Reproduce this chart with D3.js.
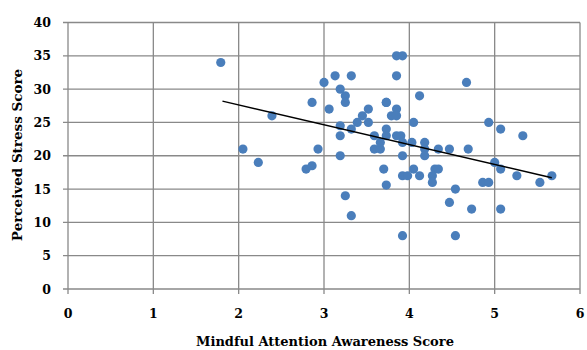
<!DOCTYPE html>
<html>
<head>
<meta charset="utf-8">
<script src="https://cdn.jsdelivr.net/npm/d3@7"></script>
<style>
  body { margin: 0; background: #fff; }
  svg { display: block; }
  text { font-family: "DejaVu Serif", "Liberation Serif", serif; font-weight: bold; fill: #000; }
</style>
</head>
<body>
<svg id="chart"></svg>
<script>
var width = 587;
var height = 350;

// MAAS score (x) and PSS score (y)
var maasScores = [1.79, 2.39, 2.05, 2.23, 2.86, 2.93, 3.00, 3.13, 3.32, 3.19,
                  3.25, 3.25, 3.06, 3.19, 3.19, 3.19, 3.32, 3.39, 3.45, 3.52,
                  3.52, 3.59, 3.59, 3.66, 3.66, 3.73, 3.73, 3.73, 3.70, 3.79,
                  2.79, 2.86, 3.73, 3.25, 3.32, 3.85, 3.92, 3.85, 4.67, 4.12,
                  3.73, 3.85, 3.85, 4.05, 4.93, 5.07, 5.33, 3.85, 3.90, 3.92,
                  4.03, 4.18, 4.18, 4.18, 4.34, 4.47, 4.69, 3.92, 5.00, 4.05,
                  4.30, 4.34, 5.07, 3.92, 3.98, 4.12, 4.27, 4.27, 4.54, 4.47,
                  4.73, 5.07, 4.86, 4.93, 5.26, 5.53, 5.67, 3.92, 4.54];
var stressScores = [34, 26, 21, 19, 28, 21, 31, 32, 32, 30,
                    29, 28, 27, 24.5, 23, 20, 24, 25, 26, 27,
                    25, 23, 21, 21, 22, 28, 24, 23, 18, 26,
                    18, 18.5, 15.6, 14, 11, 35, 35, 32, 31, 29,
                    28, 27, 26, 25, 25, 24, 23, 23, 23, 22,
                    22, 22, 21, 20, 21, 21, 21, 20, 19, 18,
                    18, 18, 18, 17, 17, 17, 17, 16, 15, 13,
                    12, 12, 16, 16, 17, 16, 17, 8, 8];

// linear trendline end points as drawn in the picture
var trendX = [1.81, 5.67];
var trendY = [28.2, 16.7];

var xTicks = [0, 1, 2, 3, 4, 5, 6];
var yTicks = [0, 5, 10, 15, 20, 25, 30, 35, 40];

var margin = {left: 68, right: 7, top: 22.5, bottom: 61};

var svg = d3.select("#chart")
        .attr("width", width)
        .attr("height", height);

var x = d3.scaleLinear().domain([0, 6]).range([margin.left, width - margin.right]);
var y = d3.scaleLinear().domain([0, 40]).range([height - margin.bottom, margin.top]);

var gridColor = "#898989";

// horizontal grid lines (stick out left as tick marks)
svg.selectAll("line.hgrid")
    .data(yTicks)
    .enter()
    .append("line")
        .attr("class", "hgrid")
        .attr("x1", x(0) - 5)
        .attr("x2", x(6))
        .attr("y1", d => y(d))
        .attr("y2", d => y(d))
        .attr("stroke", gridColor)
        .attr("stroke-width", 1.3);

// vertical grid lines (stick out below as tick marks)
svg.selectAll("line.vgrid")
    .data(xTicks)
    .enter()
    .append("line")
        .attr("class", "vgrid")
        .attr("x1", d => x(d))
        .attr("x2", d => x(d))
        .attr("y1", y(40))
        .attr("y2", y(0) + 5)
        .attr("stroke", gridColor)
        .attr("stroke-width", 1.3);

// tick labels
svg.selectAll("text.ylab")
    .data(yTicks)
    .enter()
    .append("text")
        .attr("class", "ylab")
        .attr("x", 51)
        .attr("y", d => y(d))
        .attr("dy", "0.36em")
        .attr("text-anchor", "end")
        .style("font-size", "12.5px")
        .text(d => d);

svg.selectAll("text.xlab")
    .data(xTicks)
    .enter()
    .append("text")
        .attr("class", "xlab")
        .attr("x", d => x(d))
        .attr("y", 318)
        .attr("text-anchor", "middle")
        .style("font-size", "12.5px")
        .text(d => d);

// axis titles
svg.append("text")
    .attr("x", 325)
    .attr("y", 346)
    .attr("text-anchor", "middle")
    .style("font-size", "13px")
    .text("Mindful Attention Awareness Score");

svg.append("text")
    .attr("transform", "translate(22,155) rotate(-90)")
    .attr("text-anchor", "middle")
    .style("font-size", "13.5px")
    .text("Perceived Stress Score");

// points
var points = maasScores.map((d, i) => ({mx: d, ps: stressScores[i]}));

svg.selectAll("circle")
    .data(points)
    .enter()
    .append("circle")
        .attr("cx", d => x(d.mx))
        .attr("cy", d => y(d.ps))
        .attr("r", 4.6)
        .attr("fill", "#4a7ebb");

// trendline
svg.append("line")
    .attr("x1", x(trendX[0]))
    .attr("y1", y(trendY[0]))
    .attr("x2", x(trendX[1]))
    .attr("y2", y(trendY[1]))
    .attr("stroke", "#000")
    .attr("stroke-width", 1.5);
</script>
</body>
</html>
